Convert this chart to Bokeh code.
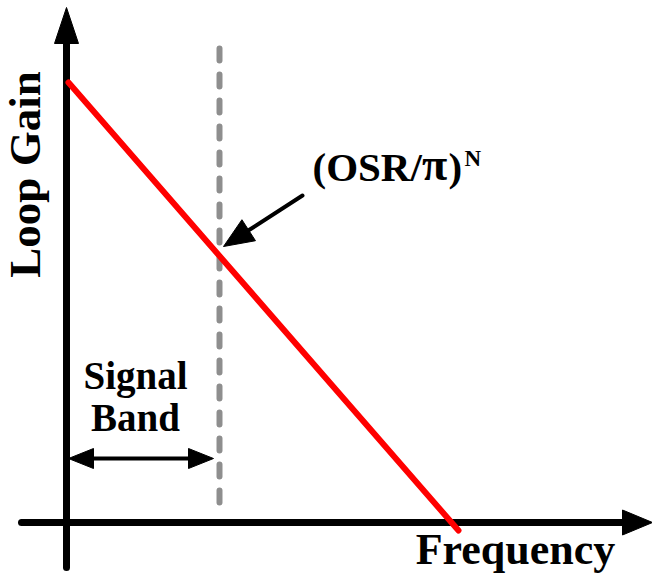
import numpy as np
from bokeh.plotting import figure
from bokeh.models import Range1d
from bokeh.core.properties import value
from bokeh.embed import file_html
from bokeh.resources import INLINE

# Schematic coordinates: frequency to the right, loop gain upward,
# origin at the crossing of the two axes (one unit = one pixel).
freq_axis = [-45, 586]          # start / arrow tip of the frequency axis
gain_axis = [-45, 515]          # start / arrow tip of the gain axis
loop_gain_freq = [2, 392]       # red loop-gain line
loop_gain_level = [440, -8]
band_edge_freq = 153            # edge of the signal band (dashed marker)
band_edge_span = [474, 10]
band_arrow_level = 64
band_arrow_freq = [2, 147]
callout_from = (236, 327)       # annotation arrow for (OSR/pi)^N
callout_to = (157, 276)

SERIF = value("Liberation Serif")

p = figure(width=652, height=581, output_backend="svg", toolbar_location=None,
           x_range=Range1d(-66, 586), y_range=Range1d(-59, 522),
           min_border=0, outline_line_color=None)
p.axis.visible = False
p.grid.visible = False
p.background_fill_color = "white"


def head(tip, origin, length, width):
    """Triangle for an arrow head pointing at tip, coming from origin."""
    tip = np.asarray(tip, float)
    origin = np.asarray(origin, float)
    u = tip - origin
    u /= np.hypot(*u)
    perp = np.array([-u[1], u[0]])
    base = tip - u * length
    pts = [tip, base + perp * width / 2, base - perp * width / 2]
    return [q[0] for q in pts], [q[1] for q in pts], base


def arrow_line(start, tip, length, width, lw, color="black"):
    xs, ys, base = head(tip, start, length, width)
    p.line([start[0], base[0]], [start[1], base[1]], line_width=lw,
           line_color=color, line_cap="round")
    p.patch(xs, ys, fill_color=color, line_color=color, line_width=1)


def label(x, y, text, size, align="left", angle=0.0, font=SERIF):
    # baseline placement: shift so the alphabetic baseline lands on (x, y)
    dy = 0.45 * size
    if angle:
        x, y = x - dy, y
    else:
        y = y + dy
    p.text(x=[x], y=[y], text=[text], angle=angle, text_font=font,
           text_font_style="bold", text_font_size=f"{size}px",
           text_align=align, text_baseline="alphabetic", text_color="black")


# signal band edge marker
p.line([band_edge_freq, band_edge_freq], band_edge_span, line_width=6,
       line_color="#8e8e8e", line_dash="12 14", line_cap="round")

# axes with arrow heads
arrow_line((freq_axis[0], 0), (freq_axis[1], 0), 30, 25, 7)
arrow_line((0, gain_axis[0]), (0, gain_axis[1]), 36, 24, 7)

# loop gain falling with frequency
p.line(loop_gain_freq, loop_gain_level, line_width=6, line_color="#ff0000",
       line_cap="round")

# callout arrow
arrow_line(callout_from, callout_to, 30, 25, 4)

# double arrow across the signal band
mid = (band_arrow_freq[0] + band_arrow_freq[1]) / 2
for end in band_arrow_freq:
    xs, ys, base = head((end, band_arrow_level), (mid, band_arrow_level), 25, 20)
    p.patch(xs, ys, fill_color="black", line_color="black", line_width=1)
p.line([band_arrow_freq[0] + 20, band_arrow_freq[1] - 20],
       [band_arrow_level, band_arrow_level], line_width=4, line_color="black")

# (OSR/pi)^N
label(246, 337, "(OSR/", 41)
label(368, 337, "\u03c0", 46, align="center")
label(382, 337, ")", 41)
label(398, 354, "N", 23)

# axis and band labels
label(69, 129, "Signal", 39, align="center")
label(69, 87, "Band", 39, align="center")
label(449, -47, "Frequency", 44, align="center")
label(-21, 348, "Loop Gain", 45, align="center", angle=np.pi / 2)

open("out.html", "w").write(file_html(p, INLINE))
